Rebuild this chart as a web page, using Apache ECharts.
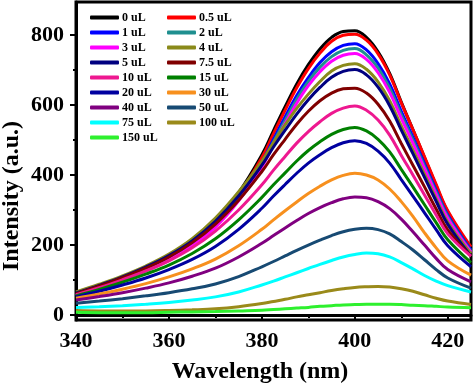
<!DOCTYPE html>
<html>
<head>
<meta charset="utf-8">
<script src="https://cdn.jsdelivr.net/npm/echarts@6/dist/echarts.min.js"></script>
<style>html,body{margin:0;padding:0;background:#fff;}#c{width:474px;height:388px;}</style>
</head>
<body>
<div id="c"></div>
<script>
// Wavelength grid (nm)
const wavelengths = [340,345,350,355,360,365,370,375,380,382.5,385,387.5,390,392.5,395,397.5,400,402.5,405,407.5,410,412.5,415,417.5,420,425];
// Series names
const names = ['0 uL','0.5 uL','1 uL','2 uL','3 uL','4 uL','5 uL','7.5 uL','10 uL','15 uL','20 uL','30 uL','40 uL','50 uL','75 uL','100 uL','150 uL'];
const colors = ['#000000','#ff0000','#0000ff','#1f8f8f','#ff00ff','#8a8a1a','#000080','#800000','#ee1890','#008000','#0000a0','#f7901e','#800080','#174a73','#00ffff','#9a8a1a','#2ef02e'];
// Intensity values (a.u.)
const s0   = [60,82,106,134,168,212,270,350,458,527,595,660,715,760,793,810,812,793,752,690,608,530,450,370,295,190];
const s05  = [58,80,104,132,165,208,265,344,450,518,585,649,704,748,782,799,802,785,746,686,606,530,452,373,298,195];
const s1   = [57,79,102,129,161,203,258,335,437,502,566,627,678,721,752,770,775,757,718,660,582,508,432,357,286,186];
const s2   = [56,78,101,128,159,200,254,330,430,494,556,616,667,708,738,756,761,743,705,648,572,500,425,351,281,182];
const s3   = [55,77,100,126,157,198,251,326,423,486,547,605,655,695,725,742,747,730,692,636,562,491,418,345,276,180];
const s4   = [66,88,112,140,174,218,277,352,440,493,543,590,631,667,697,713,718,702,666,612,540,472,402,332,265,175];
const s5   = [63,85,109,137,170,212,268,340,428,480,528,574,615,650,679,696,701,686,651,598,528,461,393,325,259,168];
const s75  = [61,83,107,134,166,207,260,328,410,458,502,545,582,612,634,646,648,634,602,554,490,428,366,303,243,168];
const s10  = [58,78,101,126,155,192,240,300,372,414,453,491,524,552,576,591,597,585,557,514,456,400,343,286,232,168];
const s15  = [55,73,94,117,143,176,218,272,336,372,406,440,470,495,516,530,536,526,502,466,416,366,315,264,215,150];
const s20  = [52,68,86,106,130,159,196,245,305,340,373,405,434,458,478,492,498,490,468,434,387,340,292,244,198,138];
const s30  = [48,60,74,90,109,132,160,198,245,272,298,323,347,368,386,399,405,400,386,360,324,282,235,192,155,114];
const s40  = [43,53,64,77,92,111,134,166,205,227,249,270,290,307,321,332,337,335,324,304,274,238,200,162,130,95];
const s50  = [34,40,47,55,64,75,89,110,138,153,169,185,200,214,227,238,245,248,244,232,210,186,158,130,106,77];
const s75b = [22,24,27,31,36,43,52,66,86,97,109,121,133,145,156,166,173,177,175,166,150,132,113,97,84,66];
const s100 = [13,12,12,12,13,15,18,24,33,39,45,52,58,64,70,75,79,81,82,80,75,68,58,48,40,30];
const s150 = [8,7,7,7,8,9,10,12,14,16,18,20,22,25,27,29,30,31,31,31,30,28,27,25,23,21];
const values = [s0,s05,s1,s2,s3,s4,s5,s75,s10,s15,s20,s30,s40,s50,s75b,s100,s150];
const yLabels = [0,200,400,600,800];
const yMinor = [100,300,500,700];

const font = 'Liberation Serif';
const chart = echarts.init(document.getElementById('c'));
const series = names.map((n,k)=>({
  name:n, type:'line', smooth:0.4, showSymbol:false, symbol:'none',
  color:colors[k], lineStyle:{width:3, color:colors[k]},
  data: wavelengths.map((w,i)=>[w, values[k][i]])
}));
const legendCommon = {
  orient:'vertical', top:10, padding:0, itemGap:0, itemWidth:29, itemHeight:4,
  icon:'roundRect', selectedMode:false,
  textStyle:{fontFamily:font, fontWeight:'bold', fontSize:12, lineHeight:15, color:'#000', padding:[0,0,0,-2]}
};
chart.setOption({
  animation:false,
  grid:{left:76, right:3, top:2, bottom:68, show:true, borderColor:'#000', borderWidth:3},
  legend:[
    Object.assign({left:90, data:names.filter((n,i)=>i%2===0)}, legendCommon),
    Object.assign({left:167, data:names.filter((n,i)=>i%2===1)}, legendCommon)
  ],
  xAxis:{type:'value', min:340, max:425, interval:20,
    axisLine:{lineStyle:{color:'#000', width:3}},
    axisTick:{length:6, lineStyle:{width:2, color:'#000'}},
    minorTick:{show:true, splitNumber:2, length:3, lineStyle:{width:2, color:'#000'}},
    splitLine:{show:false},
    axisLabel:{margin:10, color:'#000', fontFamily:font, fontWeight:'bold', fontSize:22}
  },
  yAxis:[{type:'value', min:-14, max:894,
    axisLine:{show:true, lineStyle:{color:'#000', width:3}},
    axisTick:{show:true, length:6, customValues:yLabels, lineStyle:{width:2, color:'#000'}},
    splitLine:{show:false},
    axisLabel:{margin:12, customValues:yLabels, color:'#000', fontFamily:font, fontWeight:'bold', fontSize:22}
  },{type:'value', min:-14, max:894, position:'left',
    axisLine:{show:false},
    axisTick:{show:true, length:3, customValues:yMinor, lineStyle:{width:2, color:'#000'}},
    splitLine:{show:false},
    axisLabel:{show:false}
  }],
  graphic:[
    {type:'text', x:12, y:196, rotation:Math.PI/2,
      style:{text:'Intensity (a.u.)', font:'bold 24px "Liberation Serif"', fill:'#000', align:'center', verticalAlign:'middle'}},
    {type:'text', x:260, y:372,
      style:{text:'Wavelength (nm)', font:'bold 24px "Liberation Serif"', fill:'#000', align:'center', verticalAlign:'middle'}}
  ],
  series:series
});
</script>
</body>
</html>
